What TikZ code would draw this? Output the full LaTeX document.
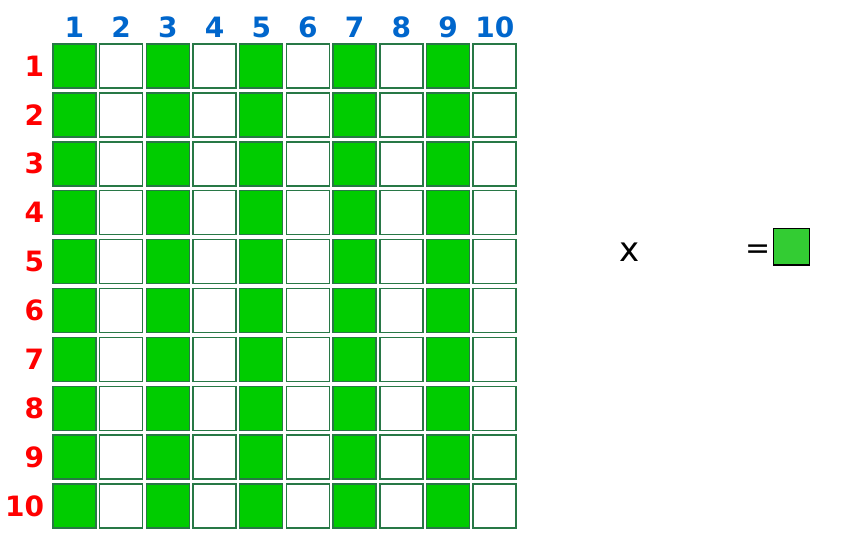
\documentclass[tikz,border=0pt]{standalone}
\usepackage{fontspec}
\setmainfont{DejaVu Sans}
\usepackage{xcolor}
\usepackage{tikz}
\usetikzlibrary{matrix,positioning}
\definecolor{cellgreen}{HTML}{00CC00}
\definecolor{unitgreen}{HTML}{33CC33}
\definecolor{gridline}{RGB}{40,120,70}
\definecolor{headblue}{HTML}{0066CC}
\definecolor{rowred}{HTML}{FF0000}
\newcommand{\labelfont}{\fontsize{28}{28}\selectfont\bfseries}

\begin{document}
\begin{tikzpicture}[
    x=1pt, y=1pt,
    nosep/.style={inner sep=0},
    boardtable/.style={
        matrix of nodes,
        row sep=3.4pt,
        column sep=2.2pt,
        nodes in empty cells,
        nodes={rectangle, nosep, anchor=center, draw=gridline, line width=1.5pt,
               minimum width=43pt, minimum height=44pt, font=\labelfont},
    every even column/.style={nodes={fill=cellgreen}},
    column 1/.style={nodes={draw=none, fill=none, text=rowred, minimum width=0pt,
               text width=40pt, align=right, inner xsep=6pt}},
    row 1/.style={nodes={draw=none, fill=none, text=headblue, minimum height=24.7pt}}   }]
\useasboundingbox (0,0) rectangle (854,555);

\matrix (board) [boardtable, inner sep=0pt, anchor=north west, ampersand replacement=\&] at (-2.2,540.1) {
    \& 1 \& 2 \& 3 \& 4 \& 5 \& 6 \& 7 \& 8 \& 9 \& 10 \\
 1  \&   \&   \&   \&   \&   \&   \&   \&   \&   \&    \\
 2  \&   \&   \&   \&   \&   \&   \&   \&   \&   \&    \\
 3  \&   \&   \&   \&   \&   \&   \&   \&   \&   \&    \\
 4  \&   \&   \&   \&   \&   \&   \&   \&   \&   \&    \\
 5  \&   \&   \&   \&   \&   \&   \&   \&   \&   \&    \\
 6  \&   \&   \&   \&   \&   \&   \&   \&   \&   \&    \\
 7  \&   \&   \&   \&   \&   \&   \&   \&   \&   \&    \\
 8  \&   \&   \&   \&   \&   \&   \&   \&   \&   \&    \\
 9  \&   \&   \&   \&   \&   \&   \&   \&   \&   \&    \\
 10 \&   \&   \&   \&   \&   \&   \&   \&   \&   \&    \\
};

% times one unit
\node (times) at (630,303) {\fontsize{34}{34}\selectfont x};
\node (equals) at (758,303.5) {\fontsize{30}{30}\selectfont =};
\node (unit) [draw=black, line width=1pt, fill=unitgreen, nosep, minimum width=35.7pt, minimum height=35.7pt] at (791.7,308.4) {};
\path[draw, line width=1.5pt] ([yshift=-0.75pt]unit.south west) -- ([yshift=-0.75pt]unit.south east);

\end{tikzpicture}
\end{document}
